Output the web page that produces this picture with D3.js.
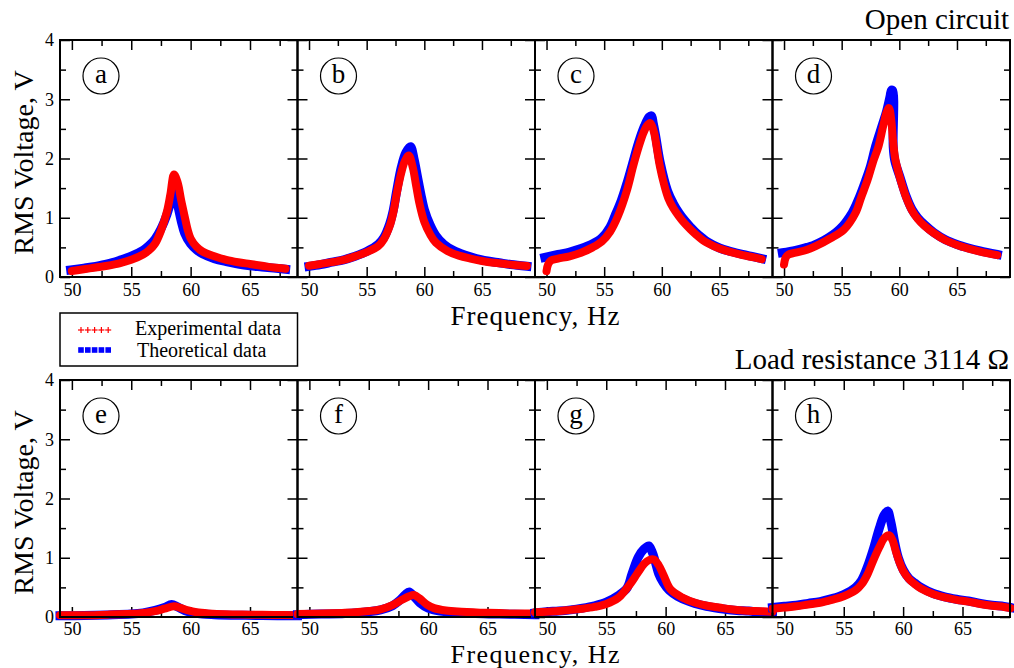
<!DOCTYPE html>
<html>
<head>
<meta charset="utf-8">
<script src="https://cdn.jsdelivr.net/npm/d3@7"></script>
<style>
  html, body { margin: 0; padding: 0; background: #fff; }
  svg { display: block; }
  text { font-family: "Liberation Serif", "Times New Roman", serif; fill: #000; }
</style>
</head>
<body>
<svg id="chart" width="1014" height="668"></svg>
<script>
// Measured RMS voltage (experimental) and model prediction (theoretical), [Hz, V]
const expA = [[50,0.10],[51,0.13],[52,0.16],[53,0.19],[54,0.23],[55,0.29],[56,0.38],[56.5,0.45],[57,0.56],[57.5,0.78],[58,1.10],[58.3,1.40],[58.6,1.73],[58.9,1.60],[59.2,1.30],[59.5,1.02],[59.75,0.80],[60,0.65],[60.5,0.51],[61,0.43],[62,0.35],[63,0.29],[64,0.25],[65,0.22],[66,0.19],[67,0.16],[68,0.14]];
const theoA = [[49.9,0.12],[51,0.15],[52,0.18],[53,0.22],[54,0.28],[55,0.35],[56,0.45],[56.5,0.53],[57,0.64],[57.5,0.81],[58,1.05],[58.3,1.25],[58.6,1.42],[58.9,1.22],[59.2,0.95],[59.5,0.74],[60,0.56],[60.5,0.46],[61,0.39],[62,0.31],[63,0.26],[64,0.22],[65,0.19],[66,0.17],[67,0.15],[68,0.13]];

const expB = [[50,0.19],[51,0.22],[52,0.25],[53,0.29],[54,0.35],[55,0.42],[56,0.52],[56.5,0.64],[57,0.86],[57.3,1.08],[57.6,1.40],[58,1.76],[58.3,1.95],[58.65,2.05],[59,1.85],[59.3,1.53],[59.6,1.22],[60,0.93],[60.5,0.72],[61,0.58],[62,0.44],[63,0.36],[64,0.31],[65,0.27],[66,0.24],[67,0.22],[68,0.20],[68.9,0.185]];
const theoB = [[50,0.18],[51,0.21],[52,0.25],[53,0.29],[54,0.35],[55,0.43],[56,0.55],[56.5,0.67],[57,0.90],[57.3,1.12],[57.6,1.45],[58,1.85],[58.4,2.10],[58.8,2.20],[59.1,2.00],[59.4,1.70],[59.7,1.40],[60,1.14],[60.5,0.88],[61,0.70],[61.7,0.55],[62.5,0.45],[63.5,0.37],[64.5,0.31],[65.5,0.27],[66.5,0.24],[67.5,0.21],[68.9,0.18]];

const expC = [[50,0.10],[50.15,0.22],[50.4,0.28],[51,0.31],[52,0.35],[53,0.41],[54,0.50],[54.8,0.60],[55.5,0.76],[56.2,1.03],[57,1.48],[57.5,1.86],[58,2.20],[58.4,2.43],[58.7,2.55],[58.97,2.60],[59.15,2.55],[59.34,2.43],[59.83,1.87],[60.2,1.56],[60.56,1.33],[61,1.16],[61.5,1.02],[62,0.90],[62.5,0.80],[63,0.71],[63.5,0.63],[64,0.57],[65,0.48],[66,0.42],[67,0.37],[68,0.33],[68.66,0.30]];
const theoC = [[49.85,0.33],[51,0.38],[52,0.42],[53,0.48],[54,0.56],[54.8,0.66],[55.5,0.84],[55.93,1.03],[56.5,1.30],[57,1.60],[57.4,1.87],[58,2.28],[58.5,2.55],[58.9,2.70],[59.1,2.72],[59.25,2.60],[59.45,2.40],[59.85,1.94],[60.5,1.45],[61,1.24],[61.5,1.08],[62,0.95],[62.5,0.84],[63,0.74],[63.5,0.66],[64,0.59],[65,0.49],[66,0.43],[67,0.38],[68,0.34],[68.66,0.31]];

const expD = [[50,0.21],[50.15,0.33],[50.4,0.38],[51,0.41],[52,0.46],[52.75,0.52],[54,0.65],[55.2,0.80],[56.2,1.08],[56.7,1.35],[57.25,1.64],[57.7,1.93],[58.2,2.21],[58.6,2.55],[58.9,2.78],[59.1,2.85],[59.3,2.65],[59.45,2.30],[59.6,2.05],[59.75,1.90],[60.1,1.64],[60.6,1.34],[61.1,1.12],[61.6,0.98],[62.2,0.86],[63,0.74],[64,0.62],[65,0.54],[66,0.48],[67,0.43],[68.5,0.37]];
const theoD = [[49.85,0.41],[51,0.45],[52,0.50],[52.5,0.53],[53.5,0.62],[54.8,0.80],[55.9,1.08],[56.5,1.33],[57.1,1.64],[57.5,1.87],[57.95,2.21],[58.5,2.55],[58.9,2.80],[59.2,3.05],[59.3,3.15],[59.42,3.15],[59.47,2.20],[59.6,1.97],[60.1,1.66],[60.6,1.36],[61.1,1.14],[61.6,1.00],[62.2,0.88],[63,0.75],[64,0.63],[65,0.55],[66,0.49],[67,0.44],[68.5,0.38]];

const expE = [[49,0.03],[51,0.03],[53,0.04],[55,0.055],[56,0.07],[57,0.10],[57.8,0.14],[58.6,0.18],[59.2,0.15],[59.8,0.11],[60.5,0.08],[61.5,0.06],[63,0.045],[65,0.04],[67,0.035],[69,0.03]];
const theoE = [[49,0.02],[51,0.025],[53,0.035],[55,0.05],[56,0.07],[57,0.11],[57.8,0.16],[58.4,0.21],[58.9,0.17],[59.5,0.11],[60,0.08],[61,0.05],[62,0.04],[64,0.03],[66,0.025],[69,0.02]];

const expF = [[49,0.05],[51,0.06],[53,0.07],[55,0.10],[56,0.13],[57,0.20],[57.8,0.29],[58.4,0.35],[58.8,0.37],[59.3,0.31],[59.9,0.21],[60.5,0.15],[61.5,0.11],[62.8,0.09],[65,0.07],[67,0.06],[69,0.06]];
const theoF = [[49,0.04],[51,0.05],[53,0.06],[55,0.09],[56,0.12],[57,0.19],[57.6,0.28],[58.1,0.38],[58.4,0.42],[58.8,0.35],[59.3,0.24],[60,0.15],[61,0.10],[62,0.08],[64,0.06],[66,0.05],[69,0.04]];

const expG = [[49,0.08],[50,0.09],[51,0.10],[52,0.12],[53,0.14],[54,0.17],[55,0.22],[56,0.32],[56.6,0.45],[57.1,0.58],[57.6,0.73],[58.2,0.90],[58.6,0.96],[59.0,0.97],[59.4,0.88],[59.84,0.70],[60.4,0.47],[61.4,0.33],[62.5,0.24],[63.5,0.19],[64.5,0.16],[65.5,0.13],[66.5,0.11],[67.5,0.10],[69,0.09]];
const theoG = [[49,0.07],[50,0.09],[51,0.10],[52,0.12],[53,0.15],[54,0.19],[55,0.25],[56,0.36],[56.75,0.49],[57.17,0.73],[57.7,1.01],[58.2,1.15],[58.58,1.20],[58.9,1.08],[59.2,0.88],[59.42,0.73],[59.8,0.58],[60.3,0.45],[61,0.35],[62,0.26],[63,0.20],[64,0.16],[65,0.13],[66,0.11],[67,0.10],[68,0.08],[69,0.07]];

const expH = [[49,0.14],[50,0.16],[51,0.18],[52,0.21],[53,0.24],[54,0.29],[55,0.35],[56,0.45],[56.5,0.55],[57,0.72],[57.5,0.96],[58,1.18],[58.4,1.33],[58.82,1.38],[59.1,1.30],[59.4,1.10],[59.7,0.92],[60,0.78],[60.5,0.64],[61,0.55],[61.5,0.48],[62.5,0.39],[63.5,0.33],[64.5,0.29],[65.5,0.26],[66.5,0.22],[67.5,0.19],[68.5,0.17],[69.05,0.15]];
const theoH = [[49,0.16],[50,0.18],[51,0.20],[52,0.23],[53,0.26],[54,0.31],[55,0.38],[56,0.50],[56.5,0.62],[57,0.85],[57.5,1.15],[58,1.50],[58.4,1.72],[58.69,1.79],[58.95,1.62],[59.3,1.25],[59.6,1.00],[60,0.80],[60.5,0.65],[61,0.57],[61.5,0.50],[62.5,0.40],[63.5,0.34],[64.5,0.30],[65.5,0.27],[66.5,0.23],[67.5,0.20],[68.5,0.18],[69.05,0.16]];

// Panel letters, upper frequency limit of each panel's axis, and series per panel
const panelLetters = ["a", "b", "c", "d", "e", "f", "g", "h"];
const panelFreqMax = [69, 69.6, 69.6, 69.6, 69, 69, 69, 69];
const panelExp = [expA, expB, expC, expD, expE, expF, expG, expH];
const panelTheo = [theoA, theoB, theoC, theoD, theoE, theoF, theoG, theoH];

const freqMin = 49;
const freqMajorTicks = [50, 55, 60, 65];
const freqMinorTicks = [52.5, 57.5, 62.5, 67.5];
const voltMajorTicks = [0, 1, 2, 3, 4];
const voltMinorTicks = [0.5, 1.5, 2.5, 3.5];

const rowTitles = ["Open circuit", "Load resistance 3114 \u03A9"];
const legendLabels = ["Experimental data", "Theoretical data"];
const xTitle = "Frequency, Hz";
const yTitle = "RMS Voltage, V";

// ---- layout ----
const svg = d3.select("#chart");
const left = 60, right = 1010;
const colW = (right - left) / 4;
const rowTop = [40, 380];
const rowH = 237;
const rowTickPad = [6, 5];
const rowXTitleBaseline = [325, 663];
const rowXTitleSize = [27, 26];
const expColor = "#ff0000", theoColor = "#0000ff";

const line = (x, y) => d3.line().x(d => x(d[0])).y(d => y(d[1])).curve(d3.curveCatmullRom.alpha(0.5));

function styleAxis(g, width) {
  g.select(".domain").remove();
  g.selectAll(".tick line").attr("stroke", "#000").attr("stroke-width", width);
}

panelLetters.forEach((letter, i) => {
  const row = Math.floor(i / 4), col = i % 4;
  const x0 = left + col * colW, y0 = rowTop[row];
  const x = d3.scaleLinear().domain([freqMin, panelFreqMax[i]]).range([x0, x0 + colW]);
  const y = d3.scaleLinear().domain([0, 4]).range([y0 + rowH, y0]);
  const g = svg.append("g");

  // ticks on all four sides, pointing inward
  const bottomMajor = g.append("g").attr("transform", `translate(0,${y0 + rowH})`)
    .call(d3.axisBottom(x).tickValues(freqMajorTicks).tickSizeInner(-10).tickSizeOuter(0).tickPadding(rowTickPad[row]));
  styleAxis(bottomMajor, 1.5);
  bottomMajor.selectAll("text").attr("font-size", 18).attr("font-family", "Liberation Serif, serif");
  styleAxis(g.append("g").attr("transform", `translate(0,${y0 + rowH})`)
    .call(d3.axisBottom(x).tickValues(freqMinorTicks).tickSizeInner(-6).tickSizeOuter(0).tickFormat("")), 1.5);
  styleAxis(g.append("g").attr("transform", `translate(0,${y0})`)
    .call(d3.axisTop(x).tickValues(freqMajorTicks).tickSizeInner(-10).tickSizeOuter(0).tickFormat("")), 1.5);
  styleAxis(g.append("g").attr("transform", `translate(0,${y0})`)
    .call(d3.axisTop(x).tickValues(freqMinorTicks).tickSizeInner(-6).tickSizeOuter(0).tickFormat("")), 1.5);

  const leftMajor = g.append("g").attr("transform", `translate(${x0},0)`)
    .call(d3.axisLeft(y).tickValues(voltMajorTicks).tickSizeInner(-10).tickSizeOuter(0).tickPadding(6)
      .tickFormat(col === 0 ? d3.format("d") : ""));
  styleAxis(leftMajor, 1.5);
  leftMajor.selectAll("text").attr("font-size", 18).attr("font-family", "Liberation Serif, serif");
  styleAxis(g.append("g").attr("transform", `translate(${x0},0)`)
    .call(d3.axisLeft(y).tickValues(voltMinorTicks).tickSizeInner(-6).tickSizeOuter(0).tickFormat("")), 1.5);
  styleAxis(g.append("g").attr("transform", `translate(${x0 + colW},0)`)
    .call(d3.axisRight(y).tickValues(voltMajorTicks).tickSizeInner(-10).tickSizeOuter(0).tickFormat("")), 1.5);
  styleAxis(g.append("g").attr("transform", `translate(${x0 + colW},0)`)
    .call(d3.axisRight(y).tickValues(voltMinorTicks).tickSizeInner(-6).tickSizeOuter(0).tickFormat("")), 1.5);

  // curves: theoretical underneath, experimental on top
  g.append("path").datum(panelTheo[i])
    .attr("d", line(x, y)).attr("fill", "none").attr("stroke", theoColor)
    .attr("stroke-width", 9).attr("stroke-linejoin", "miter").attr("stroke-linecap", "square");
  g.append("path").datum(panelExp[i])
    .attr("d", line(x, y)).attr("fill", "none").attr("stroke", expColor)
    .attr("stroke-width", 8).attr("stroke-linejoin", "round").attr("stroke-linecap", "round");

  // frame
  g.append("rect").attr("x", x0).attr("y", y0).attr("width", colW).attr("height", rowH)
    .attr("fill", "none").attr("stroke", "#000").attr("stroke-width", 2);

  // circled panel letter
  const cx = x0 + 41, cy = y0 + 36;
  g.append("circle").attr("cx", cx).attr("cy", cy).attr("r", 18)
    .attr("fill", "none").attr("stroke", "#000").attr("stroke-width", 1.2);
  g.append("text").attr("x", cx).attr("y", cy + 7).attr("text-anchor", "middle")
    .attr("font-size", 27).text(letter);
});

// row titles and axis titles
rowTitles.forEach((t, r) => {
  svg.append("text").attr("x", 1009).attr("y", r === 0 ? 29 : 369)
    .attr("text-anchor", "end").attr("font-size", 29).text(t);
  svg.append("text").attr("x", 535).attr("y", rowXTitleBaseline[r])
    .attr("text-anchor", "middle").attr("font-size", rowXTitleSize[r])
    .attr("textLength", 169).attr("lengthAdjust", "spacing").text(xTitle);
  svg.append("text").attr("transform", `translate(33,${rowTop[r] + rowH / 2 + 4}) rotate(-90)`)
    .attr("text-anchor", "middle").attr("font-size", 28).text(yTitle);
});

// legend
const legend = svg.append("g");
legend.append("rect").attr("x", 60).attr("y", 313).attr("width", colW).attr("height", 53)
  .attr("fill", "#fff").attr("stroke", "#000").attr("stroke-width", 1.5);
const markerX = d3.range(5).map(k => 81 + k * 6.8);
legend.selectAll(".plusmark").data(markerX).join("g").each(function (d) {
  const s = d3.select(this);
  s.append("line").attr("x1", d - 3).attr("x2", d + 3).attr("y1", 330).attr("y2", 330).attr("stroke", expColor).attr("stroke-width", 1.2);
  s.append("line").attr("x1", d).attr("x2", d).attr("y1", 327).attr("y2", 333).attr("stroke", expColor).attr("stroke-width", 1.2);
});
legend.selectAll(".sq").data(markerX).join("rect")
  .attr("x", d => d - 2.8).attr("y", 347.2).attr("width", 5.6).attr("height", 5.6).attr("fill", theoColor);
legendLabels.forEach((t, k) => {
  legend.append("text").attr("x", k === 0 ? 135 : 137).attr("y", k === 0 ? 335 : 357)
    .attr("font-size", 20).text(t);
});
</script>
</body>
</html>
